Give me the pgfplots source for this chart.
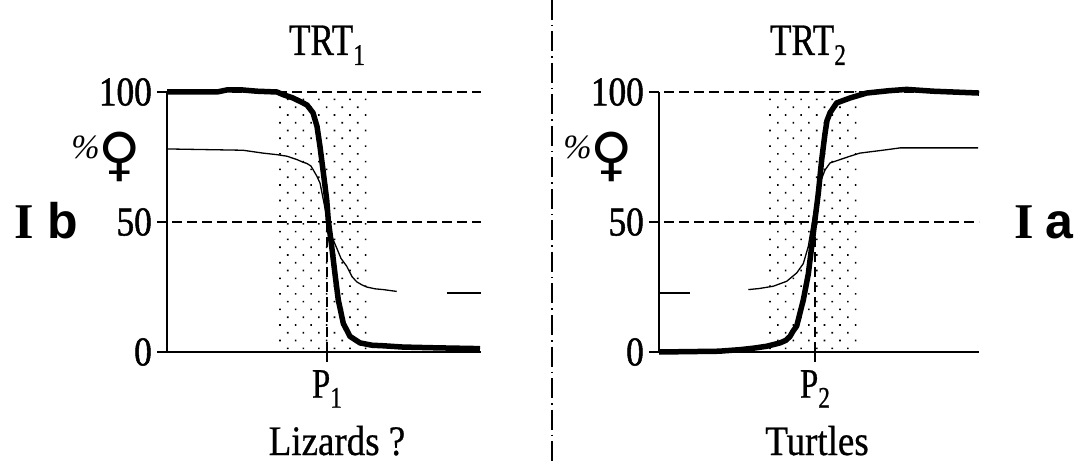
\documentclass[border=0pt]{standalone}
\usepackage{pgfplots}
\pgfplotsset{compat=1.18}
\usetikzlibrary{patterns.meta}
\usepackage{fontspec}
\setmainfont{Liberation Serif}
\newfontfamily\tickfont[FakeStretch=0.86,FakeBold=1.2]{Liberation Serif}
\newfontfamily\condf[FakeStretch=0.78,FakeBold=0.6]{Liberation Serif}
\newfontfamily\labf[FakeStretch=0.88,FakeBold=0.6]{Liberation Serif}
\newfontfamily\symfont{DejaVu Sans}
\newfontfamily\lsans{Liberation Sans}

\pgfplotsset{
  panel/.style={
    x=1pt, y=2.6pt, ymin=0, ymax=100, xmin=0,
    axis lines*=left,
    axis line style={line width=1.6pt,-},
    every tick/.style={line width=1.6pt,black},
    tick align=outside, major tick length=10pt,
    ytick={0,50,100}, yticklabels={0,50,100},
    yticklabel style={font=\tickfont\fontsize{41}{41}\selectfont, inner sep=1pt, xshift=-4pt},
    xticklabel style={font=\condf\fontsize{42}{42}\selectfont, inner sep=0pt, yshift=-8pt},
    clip=false, anchor=south west,
  },
  thickc/.style={line width=5.5pt, black, line join=round},
  thinc/.style={line width=1.3pt, black},
  dsh/.style={line width=1.8pt, black, dash pattern=on 10pt off 5pt},
  stip/.style={draw=none, pattern={Dots[distance=11pt, angle=45, radius=1.15pt]}},
}

\begin{document}
\begin{tikzpicture}
\useasboundingbox (0,0) rectangle (1085pt,-465pt);

% ---------- left panel ----------
\begin{axis}[panel, at={(167pt,-352pt)}, xmax=314,
  xtick={160}, xticklabels={P\raisebox{-10pt}{\fontsize{30}{30}\selectfont 1}}]
\addplot[stip] coordinates {(112,100) (201,100)} \closedcycle;
\addplot[dsh] coordinates {(-10,100) (314,100)};
\addplot[dsh] coordinates {(-10,50) (314,50)};
\addplot[dsh] coordinates {(160,0) (160,50)};
\addplot[thinc] coordinates {(0,78.1) (76,77.6) (96,76.5) (110,75.9) (120,75.3) (130,74) (136,73) (140,72.5) (144,71.5) (146.3,70) (150,67.5) (153,65) (156.3,58.6) (159.7,52) (164.7,44.5) (169.7,40) (174,36) (179.7,33) (185,29) (189.7,27) (195,25.8) (199.7,25) (208,24.3) (216.3,24) (229.7,23.3)};
\addplot[thinc] coordinates {(280,22.7) (314,22.7)};
\addplot[thickc] coordinates {(0,100) (50,100) (60,100.8) (75,100.8) (90,100.3) (110,100) (116,99) (126,97.7) (135,96) (140,95) (146,92) (150,86.8) (153,79) (156,70) (159.7,58.6) (161.3,50.6) (164.7,40.6) (168,30) (171.3,20) (176.3,11) (183,6) (193,3.5) (205,2.6) (216,2.4) (236,1.9) (270,1.6) (313,1.3)};
\end{axis}

% ---------- right panel ----------
\begin{axis}[panel, at={(659pt,-352pt)}, xmax=320,
  xtick={156}, xticklabels={P\raisebox{-10pt}{\fontsize{30}{30}\selectfont 2}}]
\addplot[stip] coordinates {(110,100) (198,100)} \closedcycle;
\addplot[dsh] coordinates {(-10,100) (320,100)};
\addplot[dsh] coordinates {(-10,50) (320,50)};
\addplot[dsh] coordinates {(156,0) (156,50)};
\addplot[thinc] coordinates {(0,22.7) (31,22.7)};
\addplot[thinc] coordinates {(89.3,24) (100,24.4) (114.3,25.3) (127.7,27.2) (137.7,30.4) (144.3,34) (149.3,40.6) (154.3,52) (161,65) (166,70) (171,72.7) (181,74) (191,75.3) (201,76.5) (227.7,77.8) (241,78.5) (319,78.5)};
\addplot[thickc] coordinates {(0,0) (60,0.3) (81,0.9) (95,1.5) (107.7,2.2) (121,3.5) (127,4.5) (131,6) (134,8) (137.7,10) (141,15) (144.3,20) (149.3,30) (152.7,40.6) (156,51) (159.3,61) (162.7,74) (166,84) (168,89) (171,92) (177.7,95.8) (191,97.7) (207.7,99.6) (230,100.5) (247.7,101) (274.3,100.3) (320,99.6)};
\end{axis}

% ---------- texts ----------
\node[inner sep=0pt, anchor=base] at (327pt,-55pt) {\condf\fontsize{45}{45}\selectfont TRT\raisebox{-10pt}{\fontsize{30}{30}\selectfont 1}};
\node[inner sep=0pt, anchor=base] at (808pt,-55pt) {\condf\fontsize{45}{45}\selectfont TRT\raisebox{-10pt}{\fontsize{30}{30}\selectfont 2}};
\node[inner sep=0pt, anchor=base] at (337pt,-455pt) {\labf\fontsize{42}{42}\selectfont Lizards ?};
\node[inner sep=0pt, anchor=base] at (817pt,-455pt) {\labf\fontsize{42}{42}\selectfont Turtles};
\node[inner sep=0pt, anchor=base east] at (100pt,-159pt) {\fontsize{34}{34}\selectfont\itshape \%};
\node[inner sep=0pt] at (120pt,-157pt) {\symfont\fontsize{58}{58}\selectfont ♀};
\node[inner sep=0pt, anchor=base east] at (592pt,-159pt) {\fontsize{34}{34}\selectfont\itshape \%};
\node[inner sep=0pt] at (612pt,-157pt) {\symfont\fontsize{58}{58}\selectfont ♀};
\node[inner sep=0pt, anchor=base west] at (14pt,-239pt) {\fontsize{50}{50}\selectfont\bfseries I\hspace{14pt}{\lsans b}};
\node[inner sep=0pt, anchor=base west] at (1014pt,-239pt) {\fontsize{50}{50}\selectfont\bfseries I\hspace{12pt}{\lsans a}};

\draw[line width=1.5pt, dash pattern=on 20pt off 5pt on 1.5pt off 5pt] (552pt,0pt) -- (552pt,-465pt);
\end{tikzpicture}
\end{document}
